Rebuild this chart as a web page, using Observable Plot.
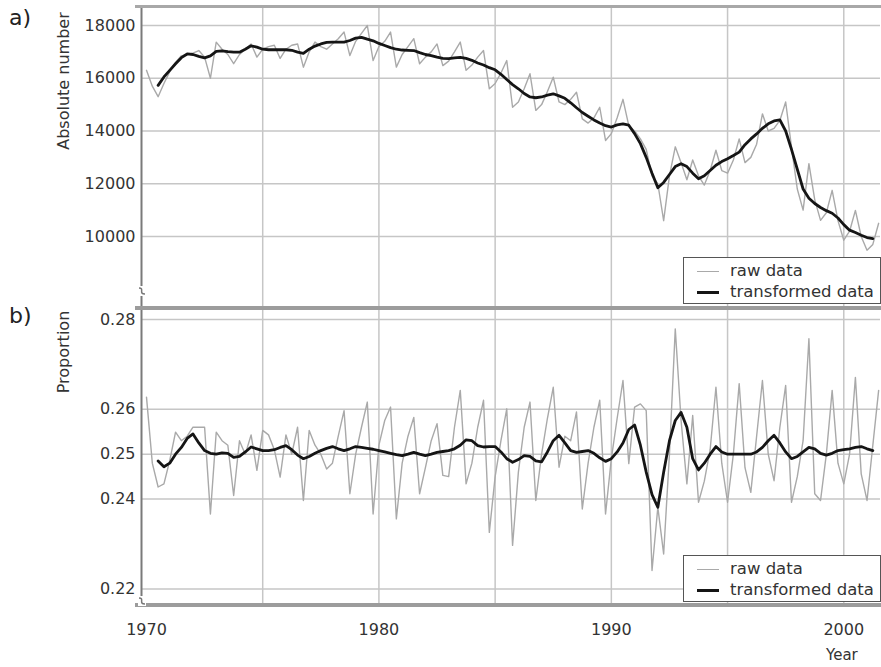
<!DOCTYPE html>
<html>
<head>
<meta charset="utf-8">
<script src="https://cdn.jsdelivr.net/npm/d3@7"></script>
<script src="https://cdn.jsdelivr.net/npm/@observablehq/plot@0.6"></script>
<style>
  html, body { margin: 0; padding: 0; background: #fff; }
  #wrap { position: relative; width: 881px; height: 667px; font-family: "DejaVu Sans", sans-serif; color: #333; overflow: hidden; }
  .abs { position: absolute; }
  .band { position: absolute; background: #a8a8a8; }
  .legend { position: absolute; background: #fff; border: 1.5px solid #555; box-sizing: border-box; font-size: 16.5px; color: #333; }
  .row { position: absolute; left: 0; height: 20px; line-height: 20px; white-space: nowrap; }
  .sw { position: absolute; left: 13px; width: 22px; top: 50%; }
  .lt { position: absolute; left: 46px; top: 0; }
  .ylab { position: absolute; transform: translate(-50%, -50%) rotate(-90deg); font-size: 16px; white-space: nowrap; color: #333; }
</style>
</head>
<body>
<div id="wrap">
  <div id="pa" class="abs" style="left:0;top:0"></div>
  <div id="pb" class="abs" style="left:0;top:308px"></div>
</div>
<script>
// ---- data (quarterly, first raw value at 1970.0, transformed starts at 1970.5) ----
const rawStart = 1970;
const smoothStart = 1970.5;

const rawAbs = [
  16300, 15700, 15300, 15800,
  16250, 16600, 16850, 16900,
  16950, 17050, 16800, 16000,
  17370, 17100, 16900, 16550,
  16900, 17100, 17300, 16800,
  17100, 17200, 17250, 16750,
  17100, 17250, 17300, 16420,
  17000, 17370, 17200, 17100,
  17300, 17500, 17750, 16860,
  17400, 17700, 18000, 16670,
  17200, 17400, 17750, 16420,
  16900, 17200, 17500, 16550,
  16800, 17000, 17300, 16480,
  16650, 17000, 17370, 16300,
  16500, 16800, 17050, 15600,
  15800, 16200, 16670, 14900,
  15100, 15600, 16170, 14780,
  15000, 15500, 16040, 15100,
  15000, 15200, 15470, 14460,
  14300, 14500, 14900, 13640,
  13900, 14500, 15200, 14200,
  14000, 13700, 13300, 12300,
  12000, 10600, 12300, 13400,
  12800, 12150, 12900, 12300,
  11950, 12500, 13270, 12500,
  12400, 12900, 13700, 12800,
  13000, 13500, 14650, 14000,
  14100, 14400, 15100, 13400,
  11800, 11000, 12760, 11400,
  10610, 10900, 11750, 10600,
  9860, 10200, 10990, 10000,
  9480, 9700, 10500
];

const smoothAbs = [
  15730, 16050,
  16300, 16550, 16780, 16920,
  16900, 16830, 16770, 16850,
  17020, 17040, 17010, 16990,
  16990, 17100, 17230, 17180,
  17100, 17080, 17080, 17080,
  17080, 17060, 16990, 16940,
  17100, 17220, 17300, 17360,
  17370, 17370, 17370, 17430,
  17520, 17550, 17480, 17420,
  17320, 17240, 17160, 17100,
  17070, 17060, 17050, 16970,
  16900, 16860, 16800, 16750,
  16740, 16770, 16790, 16750,
  16680, 16580, 16500, 16400,
  16320, 16150, 15950, 15760,
  15600, 15420, 15290, 15260,
  15290, 15360, 15410, 15330,
  15240, 15070, 14880, 14700,
  14560, 14420, 14300, 14200,
  14150, 14230, 14270, 14220,
  13900, 13520, 13000, 12400,
  11850, 12050, 12350, 12650,
  12760, 12650, 12400, 12190,
  12300, 12500, 12700, 12840,
  12950, 13070, 13200, 13480,
  13700, 13890, 14100, 14270,
  14380, 14420, 14000, 13300,
  12550, 11800, 11450, 11250,
  11100, 10980, 10880, 10700,
  10450, 10240, 10150, 10050,
  9960, 9920
];

const rawProp = [
  0.2627, 0.2480, 0.2427, 0.2434,
  0.2486, 0.2549, 0.2530, 0.2540,
  0.2560, 0.2560, 0.2560, 0.2367,
  0.2549, 0.2530, 0.2520, 0.2408,
  0.2530, 0.2500, 0.2543, 0.2464,
  0.2553, 0.2543, 0.2510, 0.2449,
  0.2543, 0.2500, 0.2560, 0.2397,
  0.2553, 0.2520, 0.2500, 0.2467,
  0.2480, 0.2540, 0.2597, 0.2412,
  0.2500, 0.2560, 0.2616, 0.2367,
  0.2520, 0.2575, 0.2605, 0.2356,
  0.2480, 0.2540, 0.2582, 0.2412,
  0.2470, 0.2530, 0.2568, 0.2453,
  0.2450, 0.2560, 0.2642, 0.2434,
  0.2480, 0.2560, 0.2620, 0.2326,
  0.2450, 0.2530, 0.2601, 0.2297,
  0.2460, 0.2560, 0.2616, 0.2397,
  0.2500, 0.2580, 0.2649, 0.2471,
  0.2540, 0.2530, 0.2594, 0.2378,
  0.2480, 0.2560, 0.2620, 0.2367,
  0.2490, 0.2580, 0.2664, 0.2479,
  0.2605, 0.2612, 0.2597, 0.2241,
  0.2382, 0.2278, 0.2500, 0.2779,
  0.2575, 0.2434, 0.2586, 0.2393,
  0.2440, 0.2510, 0.2649, 0.2480,
  0.2393, 0.2500, 0.2657, 0.2470,
  0.2415, 0.2540, 0.2664, 0.2500,
  0.2441, 0.2560, 0.2653, 0.2393,
  0.2450, 0.2530, 0.2757, 0.2412,
  0.2397, 0.2500, 0.2642, 0.2480,
  0.2434, 0.2500, 0.2671, 0.2456,
  0.2397, 0.2520, 0.2642
];

const smoothProp = [
  0.2485, 0.2472,
  0.2480, 0.2500, 0.2515, 0.2535,
  0.2545, 0.2525, 0.2508, 0.2502,
  0.2500, 0.2503, 0.2502, 0.2493,
  0.2495, 0.2505, 0.2516, 0.2512,
  0.2508, 0.2508, 0.2510, 0.2515,
  0.2519, 0.2510, 0.2498, 0.2490,
  0.2495, 0.2502, 0.2508, 0.2513,
  0.2517, 0.2512, 0.2508, 0.2512,
  0.2517, 0.2515, 0.2513, 0.2511,
  0.2508, 0.2505, 0.2502, 0.2499,
  0.2497, 0.2500, 0.2504, 0.2500,
  0.2497, 0.2500, 0.2504, 0.2506,
  0.2508, 0.2512, 0.2520, 0.2532,
  0.2530, 0.2519, 0.2516, 0.2517,
  0.2517, 0.2505, 0.2490, 0.2482,
  0.2488, 0.2497, 0.2495, 0.2485,
  0.2483, 0.2505, 0.2530, 0.2542,
  0.2525, 0.2508, 0.2504, 0.2506,
  0.2508, 0.2502, 0.2492, 0.2484,
  0.2490, 0.2505, 0.2525, 0.2555,
  0.2565, 0.2520, 0.2460, 0.2410,
  0.2382, 0.2460, 0.2530, 0.2575,
  0.2593, 0.2560, 0.2490, 0.2465,
  0.2480, 0.2500, 0.2517, 0.2505,
  0.2500, 0.2500, 0.2500, 0.2500,
  0.2500, 0.2505, 0.2515, 0.2530,
  0.2542, 0.2525, 0.2505, 0.2490,
  0.2495, 0.2505, 0.2515, 0.2512,
  0.2502, 0.2498, 0.2502, 0.2508,
  0.2510, 0.2512, 0.2515, 0.2517,
  0.2512, 0.2508
];

const absTicks = [10000, 12000, 14000, 16000, 18000];
const propTicks = [0.22, 0.24, 0.25, 0.26, 0.28];
const yearGrid = [1975, 1980, 1985, 1990, 1995, 2000];
const yearLabels = [1970, 1980, 1990, 2000];
const legendLabels = ["raw data", "transformed data"];
const yLabelA = "Absolute number";
const yLabelB = "Proportion";
const xLabel = "Year";

// ---- build tables ----
const toRows = (vals, start) => vals.map((v, i) => ({t: start + i / 4, v}));
const rawA = toRows(rawAbs, rawStart);
const smA = toRows(smoothAbs, smoothStart);
const rawB = toRows(rawProp, rawStart);
const smB = toRows(smoothProp, smoothStart);

const xDomain = [1969.785, 2001.58];
const gridStyle = {stroke: "#c6c6c6", strokeOpacity: 1, strokeWidth: 1.5};
const rawStyle = {x: "t", y: "v", stroke: "#a9a9a9", strokeWidth: 1.4};
const smStyle = {x: "t", y: "v", stroke: "#151515", strokeWidth: 2.8, strokeLinejoin: "round"};
const style = {fontFamily: "DejaVu Sans, sans-serif", fontSize: "16px", color: "#333", background: "transparent", overflow: "visible"};

const plotA = Plot.plot({
  width: 881, height: 308,
  marginLeft: 141, marginRight: 1, marginTop: 7, marginBottom: 0,
  style,
  x: {domain: xDomain, axis: null},
  y: {domain: [7270, 18682], axis: null},
  marks: [
    Plot.gridX(yearGrid, gridStyle),
    Plot.gridY(absTicks, gridStyle),
    Plot.axisY(absTicks, {tickSize: 0, tickPadding: 6, tickFormat: d => String(d), label: null, fill: "#333"}),
    Plot.line(rawA, rawStyle),
    Plot.line(smA, smStyle),
    Plot.ruleX([xDomain[0]], {stroke: "#7a7a7a", strokeWidth: 2})
  ]
});
document.getElementById("pa").appendChild(plotA);

const plotB = Plot.plot({
  width: 881, height: 359,
  marginLeft: 141, marginRight: 1, marginTop: 0, marginBottom: 61,
  style,
  x: {domain: xDomain, axis: null},
  y: {domain: [0.2161, 0.28243], axis: null},
  marks: [
    Plot.gridX(yearGrid, gridStyle),
    Plot.gridY(propTicks, gridStyle),
    Plot.axisY(propTicks, {tickSize: 0, tickPadding: 6, tickFormat: d3.format(".2f"), label: null, fill: "#333"}),
    Plot.axisX(yearLabels, {tickSize: 0, tickPadding: 17, tickFormat: d => String(d), label: null, fill: "#333"}),
    Plot.line(rawB, rawStyle),
    Plot.line(smB, smStyle),
    Plot.ruleX([xDomain[0]], {stroke: "#7a7a7a", strokeWidth: 2})
  ]
});
document.getElementById("pb").appendChild(plotB);

// ---- decorations: frame bands, legends, labels ----
const wrap = document.getElementById("wrap");
function add(html) { wrap.insertAdjacentHTML("beforeend", html); }

add('<div class="band" style="left:135px;top:5px;width:746px;height:3px"></div>');
add('<div class="band" style="left:135px;top:306px;width:746px;height:4px;background:#9c9c9c"></div>');
add('<div class="band" style="left:135px;top:603px;width:746px;height:4px;background:#9c9c9c"></div>');

function legend(top) {
  return `<div class="legend" style="left:683px;top:${top}px;width:198px;height:47px">
    <div class="row" style="top:3px;width:100%"><div class="sw" style="border-top:1.5px solid #a9a9a9"></div><span class="lt">${legendLabels[0]}</span></div>
    <div class="row" style="top:24px;width:100%"><div class="sw" style="border-top:3px solid #151515;margin-top:-1px"></div><span class="lt">${legendLabels[1]}</span></div>
  </div>`;
}
add(legend(257));
add(legend(555));

add(`<div class="ylab" style="left:63px;top:81px">${yLabelA}</div>`);
add(`<div class="ylab" style="left:63px;top:352px">${yLabelB}</div>`);
add('<div class="abs" style="left:9px;top:5px;font-size:22px;color:#222">a)</div>');
add('<div class="abs" style="left:9px;top:303px;font-size:22px;color:#222">b)</div>');
add(`<div class="abs" style="left:826px;top:646px;font-size:15px;color:#333">${xLabel}</div>`);

// axis break marks
add(`<svg class="abs" style="left:134px;top:282px" width="16" height="18">
  <rect x="4" y="4" width="8" height="10" fill="#fff"/>
  <path d="M5,6 C11,6 4,12 11,12" fill="none" stroke="#777" stroke-width="1.5"/>
</svg>`);
add(`<svg class="abs" style="left:134px;top:592px" width="16" height="18">
  <rect x="4" y="4" width="8" height="10" fill="#fff"/>
  <path d="M5,6 C11,6 4,12 11,12" fill="none" stroke="#777" stroke-width="1.5"/>
</svg>`);
</script>
</body>
</html>
